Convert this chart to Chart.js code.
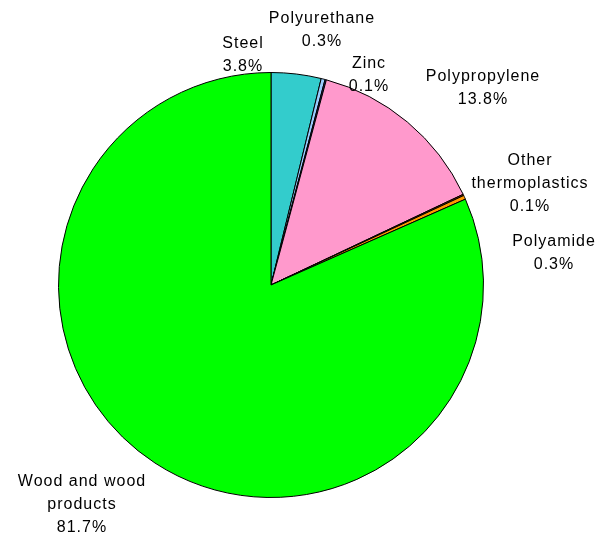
<!DOCTYPE html>
<html>
<head>
<meta charset="utf-8">
<script src="https://cdn.jsdelivr.net/npm/chart.js@4.4.0/dist/chart.umd.min.js"></script>
<style>
  html, body { margin: 0; padding: 0; background: #fff; }
  #wrap { width: 613px; height: 537px; }
</style>
</head>
<body>
<div id="wrap"><canvas id="pie" width="613" height="537"></canvas></div>
<script>
const categories = ['Steel', 'Polyurethane', 'Zinc', 'Polypropylene', 'Other thermoplastics', 'Polyamide', 'Wood and wood products'];
const shares = [3.8, 0.3, 0.1, 13.8, 0.1, 0.3, 81.7];
const sliceColors = ['#33CCCC', '#99CCFF', '#333399', '#FF99CC', '#993300', '#FF9900', '#00FF00'];

// label text lines and where they sit on the page
const labelLines = [
    ['Steel'],
    ['Polyurethane'],
    ['Zinc'],
    ['Polypropylene'],
    ['Other', 'thermoplastics'],
    ['Polyamide'],
    ['Wood and wood', 'products']
];
const labelPos = [
    [243, 44], [322, 19], [369, 64], [483, 77], [530, 161], [554, 242], [82, 482]
];

const labelPlugin = {
    id: 'sliceLabels',
    afterDraw(chart) {
        const ctx = chart.ctx;
        ctx.save();
        ctx.font = '16px "Liberation Sans", Arial, sans-serif';
        ctx.letterSpacing = '1px';
        ctx.fillStyle = '#000';
        ctx.textAlign = 'center';
        ctx.textBaseline = 'middle';
        labelLines.forEach((lines, i) => {
            const [x, y] = labelPos[i];
            const all = lines.concat([shares[i].toFixed(1) + '%']);
            all.forEach((t, j) => ctx.fillText(t, x, y + j * 23));
        });
        ctx.restore();
    }
};

new Chart(document.getElementById('pie').getContext('2d'), {
    type: 'pie',
    data: {
        labels: categories,
        datasets: [{
            data: shares,
            backgroundColor: sliceColors,
            borderColor: '#000',
            borderWidth: 1
        }]
    },
    options: {
        responsive: false,
        animation: false,
        layout: { padding: { left: 58, right: 129, top: 72, bottom: 39 } },
        plugins: {
            legend: { display: false },
            tooltip: { enabled: false }
        }
    },
    plugins: [labelPlugin]
});
</script>
</body>
</html>
